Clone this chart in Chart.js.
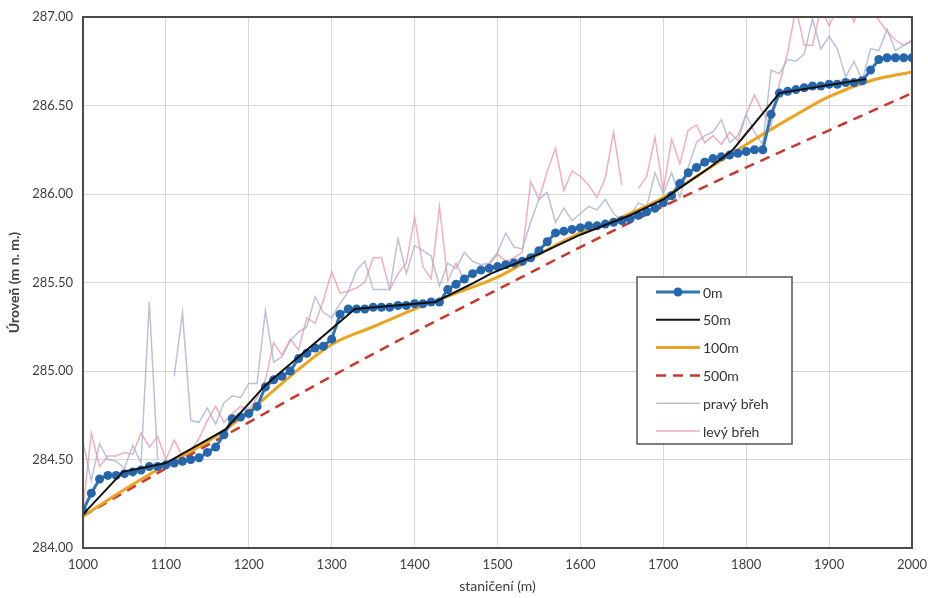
<!DOCTYPE html>
<html>
<head>
<meta charset="utf-8">
<script src="https://cdn.jsdelivr.net/npm/chart.js@4.4.0/dist/chart.umd.min.js"></script>
<style>
html, body { margin: 0; padding: 0; background: #fff; }
#wrap { width: 928px; height: 598px; }
</style>
</head>
<body>
<div id="wrap"><canvas id="chart" width="928" height="598"></canvas></div>
<script>
// stationing every 10 m for the measured series
const stations = [
  1000,1010,1020,1030,1040,1050,1060,1070,1080,1090,
  1100,1110,1120,1130,1140,1150,1160,1170,1180,1190,
  1200,1210,1220,1230,1240,1250,1260,1270,1280,1290,
  1300,1310,1320,1330,1340,1350,1360,1370,1380,1390,
  1400,1410,1420,1430,1440,1450,1460,1470,1480,1490,
  1500,1510,1520,1530,1540,1550,1560,1570,1580,1590,
  1600,1610,1620,1630,1640,1650,1660,1670,1680,1690,
  1700,1710,1720,1730,1740,1750,1760,1770,1780,1790,
  1800,1810,1820,1830,1840,1850,1860,1870,1880,1890,
  1900,1910,1920,1930,1940,1950,1960,1970,1980,1990,
  2000
];

const level0m = [
  284.21,284.31,284.39,284.41,284.41,284.42,284.43,284.44,284.46,284.46,
  284.47,284.48,284.49,284.50,284.51,284.54,284.57,284.64,284.73,284.74,
  284.76,284.80,284.91,284.95,284.97,285.00,285.07,285.10,285.13,285.14,
  285.18,285.32,285.35,285.35,285.35,285.36,285.36,285.36,285.37,285.37,
  285.38,285.38,285.39,285.39,285.46,285.49,285.52,285.55,285.57,285.58,
  285.59,285.60,285.61,285.62,285.64,285.68,285.73,285.78,285.79,285.80,
  285.81,285.82,285.82,285.83,285.84,285.85,285.86,285.88,285.90,285.92,
  285.95,285.99,286.06,286.12,286.15,286.18,286.20,286.21,286.22,286.23,
  286.24,286.25,286.25,286.45,286.57,286.58,286.59,286.60,286.61,286.61,
  286.62,286.62,286.63,286.63,286.64,286.70,286.76,286.77,286.77,286.77,
  286.77
];

const pravyBreh = [
  284.60,284.38,284.59,284.50,284.49,284.45,284.58,284.48,285.39,284.50,
  null,284.97,285.33,284.72,284.71,284.79,284.70,284.82,284.86,284.85,
  284.93,284.93,285.34,285.05,285.08,285.17,285.22,285.25,285.42,285.33,
  285.30,285.38,285.45,285.57,285.62,285.46,285.46,285.46,285.75,285.55,
  285.71,285.68,285.65,285.48,285.61,285.58,285.67,285.62,285.60,285.61,
  285.67,285.78,285.70,285.69,285.84,285.97,286.01,285.84,285.92,285.85,
  285.89,285.93,285.91,285.97,285.89,285.85,285.88,285.95,285.93,286.12,
  286.00,286.12,285.98,286.15,286.29,286.33,286.35,286.42,286.29,286.33,
  286.45,286.35,286.28,286.70,286.68,286.76,286.75,286.79,286.99,286.82,
  286.89,286.82,286.66,286.75,286.64,286.82,286.81,286.93,286.81,286.84,
  286.87
];

const levyBreh = [
  284.22,284.65,284.46,284.52,284.52,284.54,284.53,284.65,284.57,284.63,
  284.50,284.61,284.52,284.55,284.62,284.72,284.80,284.71,284.76,284.80,
  284.78,284.85,284.95,285.16,285.09,285.18,285.12,285.30,285.27,285.40,
  285.56,285.44,285.45,285.47,285.50,285.64,285.64,285.46,285.55,285.61,
  285.87,285.59,285.52,285.93,285.51,285.61,285.51,285.56,285.58,285.60,
  285.66,285.62,285.64,285.67,286.07,285.97,286.13,286.26,286.02,286.13,
  286.10,286.05,285.98,286.09,286.35,286.05,null,286.03,286.10,286.32,
  286.02,286.31,286.17,286.36,286.39,286.29,286.33,286.28,286.35,286.30,
  286.45,286.56,286.46,286.38,286.62,286.80,287.05,286.84,286.84,287.05,
  286.95,287.05,287.10,286.97,287.10,287.05,286.98,286.92,286.87,286.84,
  286.86
];

// computed profiles
const st50m = [1000,1048,1100,1172,1220,1328,1425,1468,1492,1550,1600,1660,1700,1725,1756,1784,1840,1945];
const level50m = [284.19,284.43,284.48,284.67,284.92,285.35,285.39,285.49,285.55,285.66,285.77,285.88,285.97,286.05,286.15,286.25,286.57,286.65];

const st100m = [1000,1050,1100,1150,1200,1250,1300,1350,1400,1450,1500,1550,1600,1650,1700,1750,1800,1850,1900,1950,2000];
const level100m = [284.18,284.33,284.47,284.60,284.77,284.97,285.15,285.25,285.35,285.44,285.53,285.66,285.78,285.87,285.98,286.13,286.28,286.42,286.55,286.64,286.69];

const st500m = [1000,1100,1200,1300,1400,1500,1600,1700,1800,1900,2000];
const level500m = [284.18,284.45,284.71,284.97,285.22,285.46,285.70,285.93,286.15,286.36,286.57];

const yTicks = ['284.00','284.50','285.00','285.50','286.00','286.50','287.00'];

const FONT = 'Lato, "Open Sans", sans-serif';

function pairs(xs, ys) {
  return xs.map((x, i) => ({ x: x, y: ys[i] }));
}

// border round the plot area
const frame = {
  id: 'frame',
  afterDatasetsDraw(chart) {
    const a = chart.chartArea;
    const ctx = chart.ctx;
    ctx.save();
    ctx.strokeStyle = '#4a4a4a';
    ctx.lineWidth = 2;
    ctx.strokeRect(a.left, a.top, a.right - a.left, a.bottom - a.top);
    ctx.restore();
  }
};

// legend box inside the plot
const boxLegend = {
  id: 'boxLegend',
  afterDraw(chart) {
    const ctx = chart.ctx;
    const x0 = 637, y0 = 277, w = 155, h = 167;
    ctx.save();
    ctx.fillStyle = '#fff';
    ctx.fillRect(x0, y0, w, h);
    ctx.strokeStyle = '#555';
    ctx.lineWidth = 1.5;
    ctx.strokeRect(x0, y0, w, h);
    ctx.font = '14px ' + FONT;
    ctx.textBaseline = 'middle';
    chart.data.datasets.forEach((ds, i) => {
      const cy = y0 + 15 + i * 27.8;
      ctx.beginPath();
      ctx.setLineDash(ds.borderDash || []);
      ctx.strokeStyle = ds.borderColor;
      ctx.lineWidth = ds.borderWidth;
      ctx.moveTo(656, cy);
      ctx.lineTo(700, cy);
      ctx.stroke();
      ctx.setLineDash([]);
      if (ds.pointRadius > 0) {
        ctx.beginPath();
        ctx.fillStyle = ds.pointBackgroundColor;
        ctx.arc(678, cy, ds.pointRadius, 0, Math.PI * 2);
        ctx.fill();
      }
      ctx.fillStyle = '#333';
      ctx.fillText(ds.label, 703, cy + 1);
    });
    ctx.restore();
  }
};

new Chart(document.getElementById('chart'), {
  type: 'line',
  data: {
    datasets: [
      {
        label: '0m',
        data: pairs(stations, level0m),
        borderColor: '#2e75b6',
        borderWidth: 3,
        pointRadius: 4.5,
        pointBackgroundColor: '#2566ad',
        pointBorderWidth: 0,
        order: 1
      },
      {
        label: '50m',
        data: pairs(st50m, level50m),
        borderColor: '#111',
        borderWidth: 2,
        pointRadius: 0,
        order: 0
      },
      {
        label: '100m',
        data: pairs(st100m, level100m),
        borderColor: '#eba41f',
        borderWidth: 3,
        pointRadius: 0,
        cubicInterpolationMode: 'monotone',
        order: 2
      },
      {
        label: '500m',
        data: pairs(st500m, level500m),
        borderColor: '#c8382f',
        borderWidth: 2.5,
        borderDash: [10, 7],
        pointRadius: 0,
        cubicInterpolationMode: 'monotone',
        order: 3
      },
      {
        label: 'pravý břeh',
        data: pairs(stations, pravyBreh),
        borderColor: 'rgba(165,172,205,0.75)',
        borderWidth: 1.5,
        pointRadius: 0,
        spanGaps: false,
        order: 4
      },
      {
        label: 'levý břeh',
        data: pairs(stations, levyBreh),
        borderColor: 'rgba(236,140,158,0.7)',
        borderWidth: 1.5,
        pointRadius: 0,
        spanGaps: false,
        order: 5
      }
    ]
  },
  options: {
    responsive: false,
    animation: false,
    layout: { padding: { top: 17, right: 16, left: 0, bottom: 0 } },
    plugins: {
      legend: { display: false },
      tooltip: { enabled: false }
    },
    scales: {
      x: {
        type: 'linear',
        min: 1000,
        max: 2000,
        ticks: {
          stepSize: 100,
          padding: 9,
          color: '#404040',
          font: { family: FONT, size: 13 },
          callback: v => String(v)
        },
        grid: { color: '#d9d9d9', drawTicks: false },
        border: { display: false },
        title: {
          display: true,
          text: 'staničení (m)',
          color: '#404040',
          font: { family: FONT, size: 14 },
          padding: { top: 0, bottom: 3 }
        },
        afterFit: s => { s.height = 50; s.paddingLeft = 0; s.paddingRight = 0; }
      },
      y: {
        min: 284,
        max: 287,
        ticks: {
          stepSize: 0.5,
          padding: 10,
          color: '#404040',
          font: { family: FONT, size: 13 },
          callback: v => yTicks[Math.round((v - 284) * 2)]
        },
        grid: { color: '#d9d9d9', drawTicks: false },
        border: { display: false },
        title: {
          display: true,
          text: 'Úroveň (m n. m.)',
          color: '#404040',
          font: { family: FONT, size: 14, weight: 'bold' },
          padding: { top: 6, bottom: 0 }
        },
        afterFit: s => { s.width = 83; s.paddingTop = 0; s.paddingBottom = 0; }
      }
    }
  },
  plugins: [frame, boxLegend]
});
</script>
</body>
</html>
